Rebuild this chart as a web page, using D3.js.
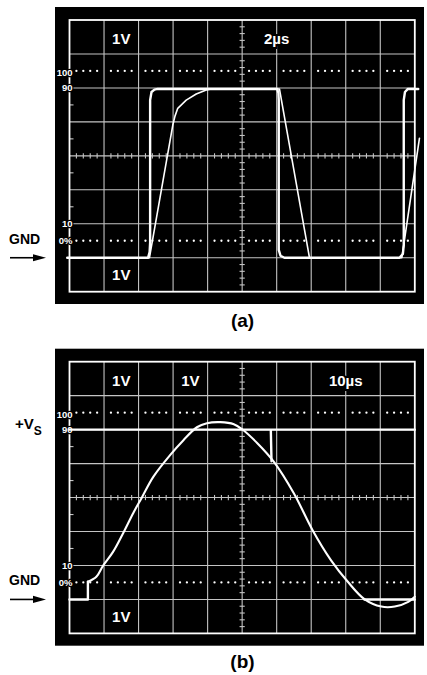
<!DOCTYPE html>
<html>
<head>
<meta charset="utf-8">
<script src="https://cdn.jsdelivr.net/npm/d3@7"></script>
<style>
  body { margin: 0; background: #fff; }
  text { font-family: "Liberation Sans", Arial, sans-serif; font-weight: bold; }
</style>
</head>
<body>
<svg id="chart" width="427" height="675"></svg>
<script>
// scope (a): 1V/div, 2µs/div, GND = 0V
const aInputT  = [-0.13, 4.55, 4.64, 4.67, 4.67, 4.75, 4.92, 5.11, 12.03, 12.1, 12.12, 12.12, 12.22, 12.45, 19.11, 19.31, 19.36, 19.36, 19.43, 19.6, 20.2];
const aInputV  = [0, 0, 0.17, 0.45, 4.64, 4.88, 4.95, 4.97, 4.97, 4.85, 4.64, 0.23, 0.06, 0, 0, 0.11, 0.37, 4.64, 4.88, 4.97, 4.97];
const aOutputT = [-0.13, 4.63, 5.98, 6.11, 6.27, 6.76, 7.34, 7.92, 8.22, 12.16, 13.9, 19.25, 20.27];
const aOutputV = [0, 0, 3.9, 4.17, 4.4, 4.64, 4.82, 4.94, 4.97, 4.97, 0, 0, 3.52];

// scope (b): 1V/div, 10µs/div
const bOutputT = [5.33, 7.78, 9.7, 12.61, 15.53, 18.44, 20.89, 24.26, 29.13, 33.0, 36.9, 39.8, 43.7, 47.6, 50.0, 54.4, 59.2, 65.0, 70.4, 75.7, 80.6, 85.4, 90.3, 94.2, 98.1, 100];
const bOutputV = [0.52, 0.67, 0.99, 1.4, 1.95, 2.54, 2.99, 3.61, 4.25, 4.69, 5.07, 5.19, 5.22, 5.16, 5.01, 4.6, 4.05, 3.12, 2.04, 1.16, 0.52, 0.01, -0.21, -0.21, -0.07, 0.08];
// visible pieces of the input trace, null = gap
const bInputT = [0, 5.33, 5.33, null, 0, 100, null, 58.3, 58.5, null, 85.4, 100];
const bInputV = [0, 0, 0.52, null, 5, 5, null, 5, 4.07, null, 0, 0];

// graticule marks (volts above GND)
const levelLabels = ["100", "90", "10", "0%"];
const levelVolts = [5.5, 5, 1, 0.5];
const aTopLabels = ["1V", "2µs"];
const bTopLabels = ["1V", "1V", "10µs"];
const bottomLabel = "1V";

const svg = d3.select("#chart");

function drawScope(cfg) {
    const top = cfg.top;
    const x = d3.scaleLinear().domain([0, cfg.tMax]).range([69.5, 414.8]);
    const y = d3.scaleLinear().domain([-1, 7]).range([top + 271.7, top]);
    const step = cfg.tMax / 10;
    const g = svg.append("g");

    g.append("rect")
        .attr("x", 55).attr("y", top - 13)
        .attr("width", 369).attr("height", 297)
        .attr("fill", "#000");

    // grid lines
    g.selectAll("line.vgrid")
        .data(d3.range(1, 10))
        .join("line")
        .attr("x1", d => x(d * step)).attr("x2", d => x(d * step))
        .attr("y1", y(7)).attr("y2", y(-1))
        .attr("stroke", "#c4c4c4").attr("stroke-width", 1.1);

    g.selectAll("line.hgrid")
        .data(d3.range(0, 7))
        .join("line")
        .attr("x1", x(0)).attr("x2", x(cfg.tMax))
        .attr("y1", d => y(d)).attr("y2", d => y(d))
        .attr("stroke", "#c4c4c4").attr("stroke-width", 1.1);

    // minor ticks on the centre lines
    const minorT = [];
    d3.range(10).forEach(i => [1, 2, 3, 4].forEach(k => minorT.push((i + k / 5) * step)));
    const minorV = [];
    d3.range(8).forEach(j => [1, 2, 3, 4].forEach(k => minorV.push(-1 + j + k / 5)));

    g.selectAll("line.tickx")
        .data(minorT)
        .join("line")
        .attr("x1", d => x(d)).attr("x2", d => x(d))
        .attr("y1", y(3) - 2.6).attr("y2", y(3) + 2.6)
        .attr("stroke", "#c4c4c4").attr("stroke-width", 1.1);

    g.selectAll("line.ticky")
        .data(minorV)
        .join("line")
        .attr("x1", x(cfg.tMax / 2) - 2.6).attr("x2", x(cfg.tMax / 2) + 2.6)
        .attr("y1", d => y(d)).attr("y2", d => y(d))
        .attr("stroke", "#c4c4c4").attr("stroke-width", 1.1);

    g.selectAll("line.edge")
        .data([1.5, 2.5, 3.5, 4.5])
        .join("line")
        .attr("x1", x(0)).attr("x2", x(0) + 4)
        .attr("y1", d => y(d)).attr("y2", d => y(d))
        .attr("stroke", "#c4c4c4").attr("stroke-width", 1.1);

    // outer border
    g.append("rect")
        .attr("x", x(0)).attr("y", y(7))
        .attr("width", x(cfg.tMax) - x(0)).attr("height", y(-1) - y(7))
        .attr("fill", "none").attr("stroke", "#fff").attr("stroke-width", 1.8);

    // dotted 0% / 100% lines
    const dots = [];
    [levelVolts[0], levelVolts[3]].forEach(v => minorT.forEach(t => dots.push({ t, v })));
    g.selectAll("circle.dot")
        .data(dots)
        .join("circle")
        .attr("cx", d => x(d.t)).attr("cy", d => y(d.v))
        .attr("r", 1.15).attr("fill", "#fff");

    // level labels on the left edge
    g.selectAll("text.level")
        .data(levelLabels)
        .join("text")
        .attr("x", x(0) + 3)
        .attr("y", (d, i) => y(levelVolts[i]) + (i === 0 ? 5.5 : 3.4))
        .attr("text-anchor", "end")
        .attr("font-size", 9.5)
        .attr("fill", "#fff")
        .attr("stroke", "#000").attr("stroke-width", 2.5)
        .attr("paint-order", "stroke")
        .text(d => d);

    // traces
    const line = d3.line()
        .defined(d => d.v != null)
        .x(d => x(d.t))
        .y(d => y(d.v));

    cfg.traces.forEach(tr => {
        const pts = tr.t.map((t, i) => ({ t, v: tr.v[i] }));
        g.append("path")
            .datum(pts)
            .attr("d", line.curve(tr.curve || d3.curveLinear))
            .attr("fill", "none")
            .attr("stroke", "#fff")
            .attr("stroke-width", tr.width)
            .attr("stroke-linejoin", "round")
            .attr("stroke-linecap", "round");
    });

    // scale labels
    const labels = cfg.topLabels.map(l => ({ ...l, yy: y(7) + 24 }))
        .concat([{ text: bottomLabel, div: 1.5, yy: y(-1) - 11.7 }]);
    g.selectAll("text.scale")
        .data(labels)
        .join("text")
        .attr("x", d => x(d.div * step))
        .attr("y", d => d.yy)
        .attr("text-anchor", "middle")
        .attr("font-size", 15)
        .attr("fill", "#fff")
        .attr("stroke", "#000").attr("stroke-width", 4)
        .attr("paint-order", "stroke")
        .text(d => d.text);

    // GND marker outside the screen
    const gy = y(0);
    svg.append("text")
        .attr("x", 9).attr("y", gy - 14.2)
        .attr("font-size", 14)
        .attr("fill", "#000")
        .text("GND");
    svg.append("line")
        .attr("x1", 10).attr("x2", 35)
        .attr("y1", gy).attr("y2", gy)
        .attr("stroke", "#000").attr("stroke-width", 1.6);
    svg.append("path")
        .attr("d", `M33,${gy - 3.6}L46,${gy}L33,${gy + 3.6}Z`)
        .attr("fill", "#000");

    // caption
    svg.append("text")
        .attr("x", 242.5).attr("y", y(-1) + 35)
        .attr("text-anchor", "middle")
        .attr("font-size", 19)
        .attr("fill", "#000")
        .text(cfg.caption);

    return { x, y };
}

drawScope({
    top: 20,
    tMax: 20,
    caption: "(a)",
    topLabels: [{ text: aTopLabels[0], div: 1.5 }, { text: aTopLabels[1], div: 6 }],
    traces: [
        { t: aInputT, v: aInputV, width: 2.4 },
        { t: aOutputT, v: aOutputV, width: 1.6 }
    ]
});

const b = drawScope({
    top: 361.7,
    tMax: 100,
    caption: "(b)",
    topLabels: [{ text: bTopLabels[0], div: 1.5 }, { text: bTopLabels[1], div: 3.5 }, { text: bTopLabels[2], div: 8 }],
    traces: [
        { t: bInputT, v: bInputV, width: 2.4 },
        { t: bOutputT, v: bOutputV, width: 2.1, curve: d3.curveCatmullRom }
    ]
});

// +Vs marker beside the 90% level of (b)
const vs = svg.append("text")
    .attr("x", 15).attr("y", b.y(5) - 1)
    .attr("font-size", 15)
    .attr("fill", "#000");
vs.append("tspan").text("+V");
vs.append("tspan").attr("font-size", 12).attr("dy", 6).text("S");
</script>
</body>
</html>
